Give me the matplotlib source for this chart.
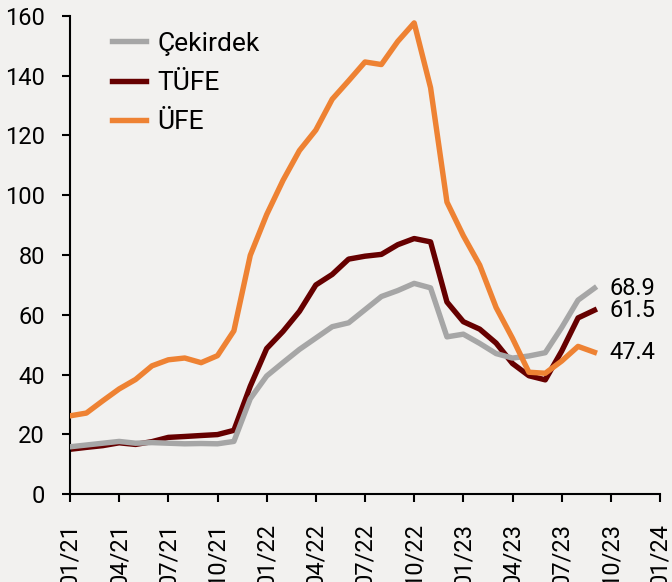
import matplotlib
matplotlib.use("Agg")
import matplotlib.pyplot as plt

months = list(range(33))  # 01/21 .. 09/23
tick_labels = ["01/21", "04/21", "07/21", "10/21", "01/22", "04/22", "07/22",
               "10/22", "01/23", "04/23", "07/23", "10/23", "01/24"]

cekirdek = [15.8, 16.4, 17.0, 17.6, 17.0, 17.2, 17.0, 16.8, 16.9, 16.8, 17.6, 31.9,
            39.5, 44.0, 48.4, 52.2, 56.0, 57.3, 61.7, 66.1, 68.1, 70.5, 69.0, 52.6,
            53.5, 50.4, 47.0, 45.5, 46.2, 47.3, 55.7, 64.9, 68.9]
tufe = [14.97, 15.61, 16.19, 17.14, 16.59, 17.53, 18.95, 19.25, 19.58, 19.89, 21.31, 36.08,
        48.69, 54.44, 61.14, 69.97, 73.50, 78.62, 79.60, 80.21, 83.45, 85.51, 84.39, 64.27,
        57.68, 55.18, 50.51, 43.68, 39.59, 38.21, 47.83, 58.94, 61.53]
ufe = [26.16, 27.09, 31.20, 35.17, 38.33, 42.89, 44.92, 45.52, 43.96, 46.31, 54.62, 79.89,
       93.53, 105.01, 114.97, 121.82, 132.16, 138.31, 144.61, 143.75, 151.50, 157.69, 136.02, 97.72,
       86.46, 76.61, 62.43, 52.11, 40.76, 40.42, 44.50, 49.41, 47.44]

end_labels = ["68.9", "61.5", "47.4"]

plt.rcParams['font.family'] = ['Roboto', 'DejaVu Sans']
FS = 17
bg = '#f2f1ef'
c_gray, c_red, c_orange = '#a6a6a6', '#660000', '#ee8233'

fig = plt.figure(figsize=(6.72, 5.82), dpi=100, facecolor=bg)
ax = fig.add_axes([70/672, 1-494/582, 590/672, 478/582])
ax.set_facecolor(bg)

lw = 3.9
l_tufe, = ax.plot(months, tufe, color=c_red, lw=lw, label='TÜFE', zorder=2)
l_cek, = ax.plot(months, cekirdek, color=c_gray, lw=lw, label='Çekirdek', zorder=3)
l_ufe, = ax.plot(months, ufe, color=c_orange, lw=lw, label='ÜFE', zorder=4)

ax.set_xlim(0, 36)
ax.set_ylim(0, 160)
ax.set_yticks(range(0, 161, 20))
ax.set_xticks(range(0, 37, 3))
ax.set_xticklabels(tick_labels, rotation=90, va='top', ha='center')

for s in ['top', 'right']:
    ax.spines[s].set_visible(False)
for s in ['left', 'bottom']:
    ax.spines[s].set_linewidth(1.5)
    ax.spines[s].set_color('black')
ax.tick_params(axis='y', direction='out', length=6, width=1.5, pad=12, labelsize=FS)
ax.tick_params(axis='x', direction='out', length=6, width=1.5, pad=15, labelsize=FS)

for val, txt in zip([cekirdek[-1], tufe[-1], ufe[-1]], end_labels):
    ax.annotate(txt, xy=(months[-1], val), xytext=(11, 0), textcoords='offset points',
                va='center', ha='left', fontsize=FS, color='black')

LFS = 19
leg = ax.legend(handles=[l_cek, l_tufe, l_ufe], loc='upper left',
                bbox_to_anchor=(31/590, 1-5/478), frameon=False, fontsize=LFS,
                handlelength=1.3, handletextpad=0.45, labelspacing=0.58, borderaxespad=0)

fig.savefig('out.png', dpi=100, facecolor=bg)
